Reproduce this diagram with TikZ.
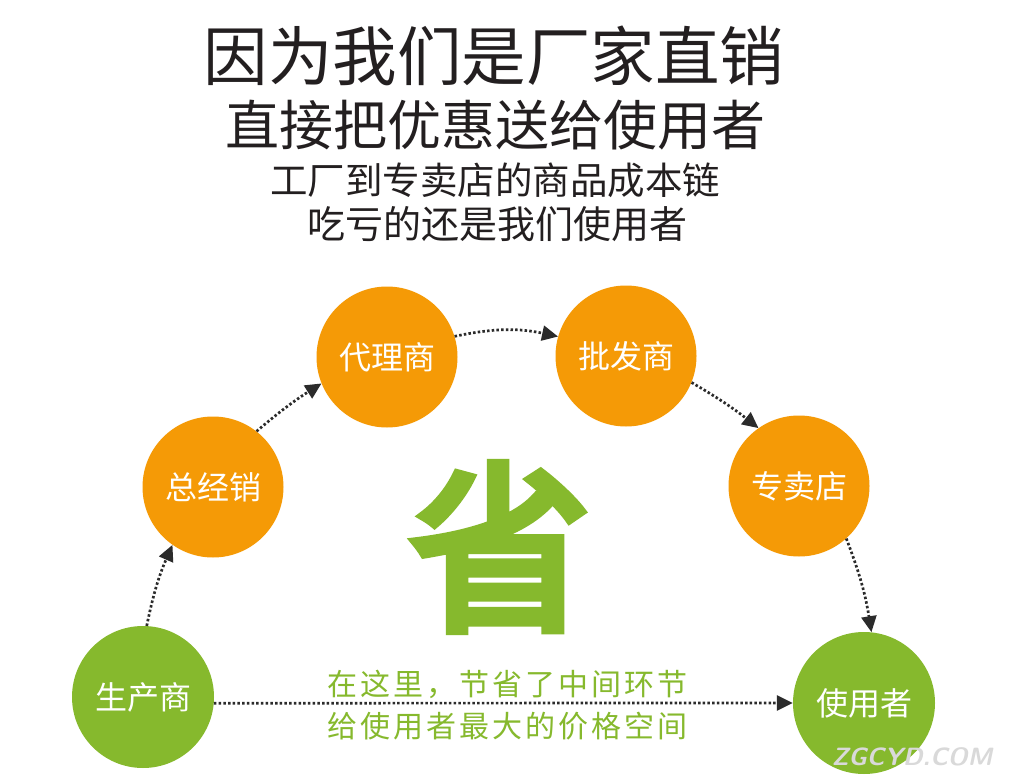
\documentclass[tikz,border=0pt]{standalone}
\usepackage{fontspec}
\usetikzlibrary{arrows.meta}
\newfontfamily\cjk{Noto Sans CJK SC}
\newfontfamily\cjkbold{Noto Sans CJK SC}[FakeBold=5]
\newfontfamily\cjkspaced{Noto Sans CJK SC}[LetterSpace=10]
\definecolor{orangec}{HTML}{F59A06}
\definecolor{greenc}{HTML}{86B92D}
\definecolor{darktext}{HTML}{231F20}
\definecolor{arrowc}{HTML}{2B2B2B}
\tikzset{
  orangecirc/.style={circle, fill=orangec, minimum size=141pt, inner sep=0pt, text=white, font=\cjk\fontsize{32}{32}\selectfont},
  greencirc/.style={circle, fill=greenc, minimum size=142pt, inner sep=0pt, text=white, font=\cjk\fontsize{32}{32}\selectfont},
  flow/.style={draw=arrowc, line width=2.7pt, dash pattern=on 2.5pt off 2.2pt, -{Triangle[length=16pt,width=15pt]}},
  titletext/.style={text=darktext, inner sep=0pt},
}
\begin{document}
\begin{tikzpicture}[x=1pt,y=-1pt]
\fill[white] (0,0) rectangle (1010,781);
\useasboundingbox (0,0) rectangle (1010,781);
% titles
\node[titletext, font=\cjk\fontsize{64.5}{64.5}\selectfont] (t1) at (494,56) {因为我们是厂家直销};
\node[titletext, font=\cjk\fontsize{54}{54}\selectfont] (t2) at (495,125) {直接把优惠送给使用者};
\node[titletext, font=\cjk\fontsize{37.5}{37.5}\selectfont] (t3) at (495,180) {工厂到专卖店的商品成本链};
\node[titletext, font=\cjk\fontsize{38}{38}\selectfont] (t4) at (497,224) {吃亏的还是我们使用者};
% circles
\node[greencirc] (scs) at (143,697) {生产商};
\node[orangecirc] (zjx) at (213,487) {总经销};
\node[orangecirc] (dls) at (387,357) {代理商};
\node[orangecirc] (pfs) at (626,356) {批发商};
\node[orangecirc] (zmd) at (799,486) {专卖店};
\node[greencirc] (syz) at (864,703) {使用者};
% big character
\node[text=greenc, inner sep=0pt, font=\cjkbold\fontsize{182}{182}\selectfont] (sheng) at (500,547) {省};
% green text
\node[text=greenc, inner sep=0pt, font=\cjkspaced\fontsize{30}{30}\selectfont] (g1) at (507,684) {在这里，节省了中间环节};
\node[text=greenc, inner sep=0pt, font=\cjkspaced\fontsize{30}{30}\selectfont] (g2) at (507,726) {给使用者最大的价格空间};
% connectors
\draw[flow] (scs.87) to[bend left=6] (zjx.-125);
\draw[flow] (zjx.52) to[bend left=4] (dls.202);
\draw[flow] (dls.17) to[bend left=12] (pfs.164);
\draw[flow] (pfs.-22) to[bend left=4] (zmd.125);
\draw[flow] (zmd.-48) to[bend left=6] (syz.84);
\draw[flow] (scs.-5) -- (syz.west);
% watermark
\node[text=gray!30, inner sep=0pt, font=\sffamily\bfseries\itshape\fontsize{25}{25}\selectfont] (wm) at (912,757) {ZGCYD.COM};
\end{tikzpicture}
\end{document}
